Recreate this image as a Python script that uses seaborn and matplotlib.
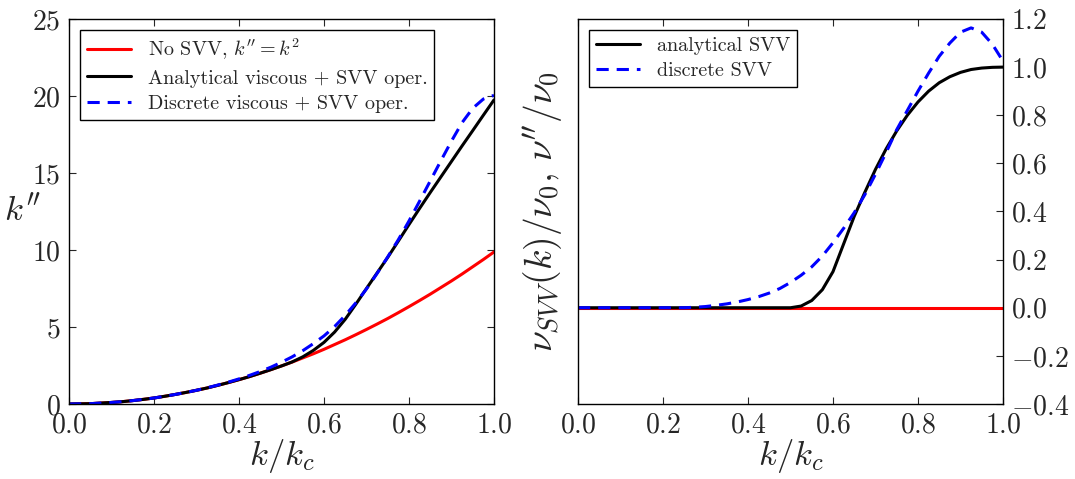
import matplotlib
matplotlib.use("Agg")
import matplotlib.pyplot as plt
import seaborn as sns

# k / k_c
k_kc = [0.0, 0.025, 0.05, 0.075, 0.1, 0.125, 0.15, 0.175, 0.2, 0.225,
        0.25, 0.275, 0.3, 0.325, 0.35, 0.375, 0.4, 0.425, 0.45, 0.475,
        0.5, 0.525, 0.55, 0.575, 0.6, 0.625, 0.65, 0.675, 0.7, 0.725,
        0.75, 0.775, 0.8, 0.825, 0.85, 0.875, 0.9, 0.925, 0.95, 0.975, 1.0]

# panel gauche : k''
k2_no_svv = [0.0, 0.01, 0.02, 0.06, 0.10, 0.15, 0.22, 0.30, 0.39, 0.50,
             0.62, 0.75, 0.89, 1.04, 1.21, 1.39, 1.58, 1.78, 2.00, 2.23,
             2.47, 2.72, 2.99, 3.26, 3.55, 3.86, 4.17, 4.50, 4.84, 5.19,
             5.55, 5.93, 6.32, 6.72, 7.13, 7.56, 7.99, 8.44, 8.91, 9.38, 9.87]
k2_analytic = [0.0, 0.01, 0.02, 0.06, 0.10, 0.15, 0.22, 0.30, 0.39, 0.50,
               0.62, 0.75, 0.89, 1.04, 1.21, 1.39, 1.58, 1.78, 2.00, 2.23,
               2.47, 2.73, 3.06, 3.48, 4.00, 4.67, 5.50, 6.48, 7.50, 8.51,
               9.52, 10.58, 11.65, 12.70, 13.73, 14.74, 15.75, 16.76, 17.75, 18.75, 19.74]
k2_discrete = [0.0, 0.01, 0.02, 0.06, 0.10, 0.15, 0.22, 0.30, 0.39, 0.50,
               0.62, 0.75, 0.89, 1.05, 1.23, 1.42, 1.63, 1.86, 2.11, 2.39,
               2.71, 3.06, 3.46, 3.92, 4.42, 5.03, 5.75, 6.57, 7.47, 8.48,
               9.55, 10.67, 11.88, 13.17, 14.48, 15.79, 17.07, 18.27, 19.20, 19.80, 20.04]

# panel droit : nu_SVV / nu_0
nu_zero = [0.0] * 41
nu_analytic = [0.0, 0.0, 0.0, 0.0, 0.0, 0.0, 0.0, 0.0, 0.0, 0.0,
               0.0, 0.0, 0.0, 0.0, 0.0, 0.0, 0.0, 0.0, 0.0, 0.0,
               0.0, 0.007, 0.03, 0.075, 0.15, 0.265, 0.38, 0.48, 0.575, 0.66,
               0.735, 0.80, 0.855, 0.90, 0.935, 0.96, 0.978, 0.99, 0.996, 0.999, 1.0]
nu_discrete = [0.0, 0.0, 0.0, 0.0, 0.0, 0.0, 0.0, 0.0, 0.0, 0.0,
               0.0, 0.002, 0.005, 0.01, 0.016, 0.024, 0.034, 0.046, 0.061, 0.08,
               0.105, 0.135, 0.17, 0.215, 0.27, 0.33, 0.395, 0.47, 0.555, 0.645,
               0.74, 0.82, 0.90, 0.975, 1.045, 1.10, 1.145, 1.163, 1.145, 1.095, 1.025]

sns.set_style("ticks")
plt.rcParams['font.family'] = ['cmr10', 'DejaVu Serif']
plt.rcParams['mathtext.fontset'] = 'cm'
plt.rcParams['axes.formatter.use_mathtext'] = True
plt.rcParams['axes.unicode_minus'] = True
plt.rcParams['axes.linewidth'] = 1.0
plt.rcParams['axes.edgecolor'] = 'black'

fig = plt.figure(figsize=(10.75, 4.79), dpi=100)
ax1 = fig.add_axes([0.0642, 0.1566, 0.3953, 0.8038])
ax2 = fig.add_axes([0.5377, 0.1566, 0.3953, 0.8038])

dash = (0, (4.0, 2.6))
lw = 2.2
tick_fs = 20
lab_fs = 25
leg_fs = 14.5

# gauche
sns.lineplot(x=k_kc, y=k2_no_svv, ax=ax1, color='red', lw=lw, label=r"No SVV, $k^{\prime\prime}=k^2$")
sns.lineplot(x=k_kc, y=k2_analytic, ax=ax1, color='black', lw=lw, label="Analytical viscous + SVV oper.")
sns.lineplot(x=k_kc, y=k2_discrete, ax=ax1, color='blue', lw=lw, linestyle=dash,
             label="Discrete viscous + SVV oper.")
ax1.set_xlim(0, 1)
ax1.set_ylim(0, 25)
ax1.set_xticks([0.0, 0.2, 0.4, 0.6, 0.8, 1.0])
ax1.set_yticks([0, 5, 10, 15, 20, 25])
ax1.set_xlabel(r"$k/k_c$", fontsize=lab_fs, labelpad=-1)
ax1.set_ylabel(r"$k^{\prime\prime}$", fontsize=lab_fs, rotation=0, va='center', ha='center')
ax1.yaxis.set_label_coords(-0.108, 0.5)
ax1.tick_params(direction='in', length=5, width=0.8, labelsize=tick_fs, pad=6,
                top=True, right=True)
ax1.legend(loc='upper left', fontsize=leg_fs, frameon=True, fancybox=False,
           edgecolor='black', framealpha=1, handlelength=2.2, borderpad=0.35,
           labelspacing=0.35, borderaxespad=0.55)
ax1.get_legend().get_frame().set_linewidth(1.0)

# droit
sns.lineplot(x=k_kc, y=nu_zero, ax=ax2, color='red', lw=lw)
sns.lineplot(x=k_kc, y=nu_analytic, ax=ax2, color='black', lw=lw, label="analytical SVV")
sns.lineplot(x=k_kc, y=nu_discrete, ax=ax2, color='blue', lw=lw, linestyle=dash,
             label="discrete SVV")
ax2.set_xlim(0, 1)
ax2.set_ylim(-0.4, 1.2)
ax2.set_xticks([0.0, 0.2, 0.4, 0.6, 0.8, 1.0])
ax2.set_yticks([-0.4, -0.2, 0.0, 0.2, 0.4, 0.6, 0.8, 1.0, 1.2])
ax2.yaxis.tick_right()
ax2.set_xlabel(r"$k/k_c$", fontsize=lab_fs, labelpad=-1)
ax2.set_ylabel(r"$\nu_{SVV}(k)/\nu_0,\, \nu^{\prime\prime}/\nu_0$", fontsize=27)
ax2.yaxis.set_label_position('left')
ax2.yaxis.set_label_coords(-0.03, 0.5)
ax2.tick_params(direction='in', length=5, width=0.8, labelsize=tick_fs, pad=6, top=True)
ax2.tick_params(axis='y', left=False, right=True, pad=6)
ax2.legend(loc='upper left', fontsize=leg_fs, frameon=True, fancybox=False,
           edgecolor='black', framealpha=1, handlelength=2.2, borderpad=0.35,
           labelspacing=0.35, borderaxespad=0.55)
ax2.get_legend().get_frame().set_linewidth(1.0)

for ax in (ax1, ax2):
    for s in ax.spines.values():
        s.set_visible(True)

fig.savefig("out.png", dpi=100)
